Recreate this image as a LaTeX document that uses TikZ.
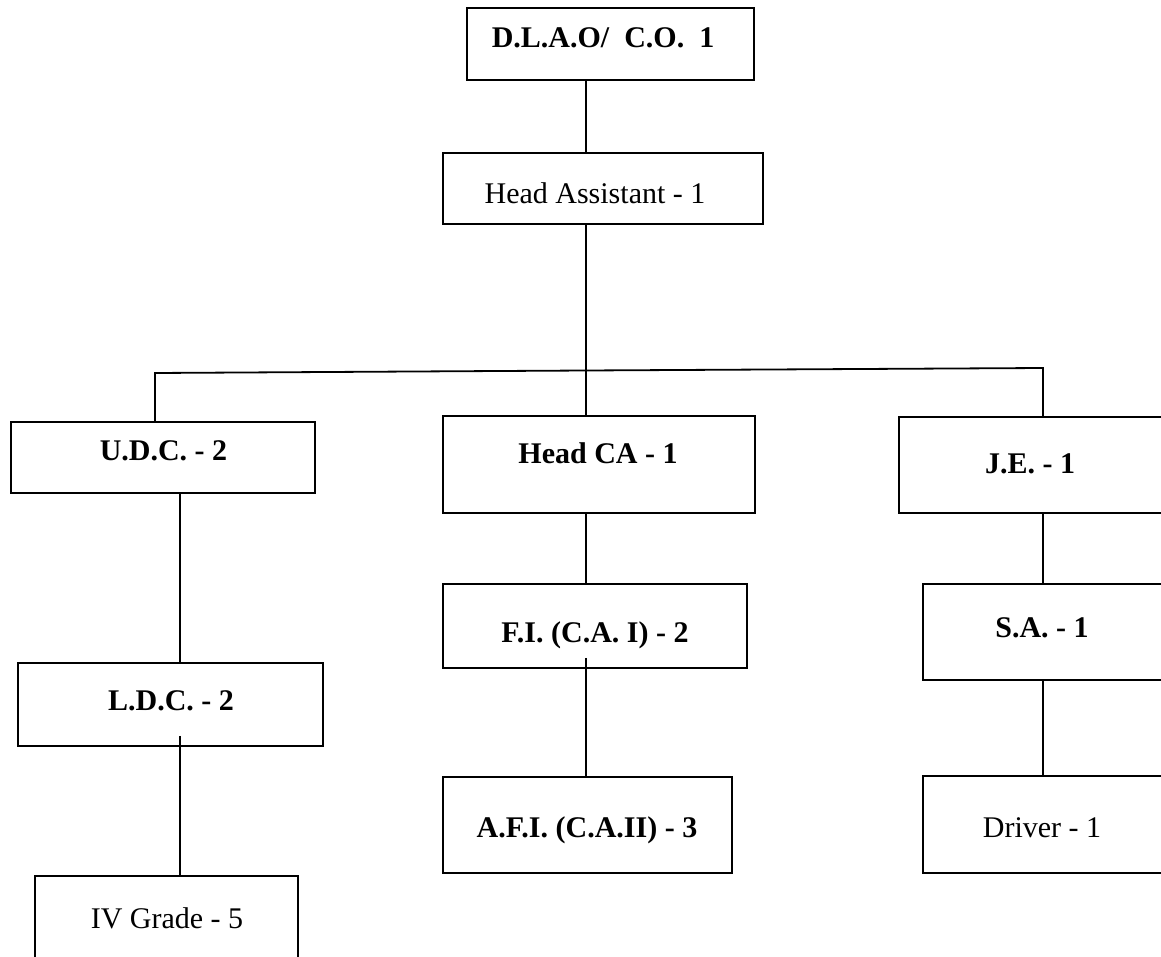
\documentclass[tikz,border=0pt]{standalone}
\usepackage{fontspec}
\setmainfont{Liberation Serif}
\begin{document}
\begin{tikzpicture}[x=1pt,y=-1pt,
  orgbox/.style={draw=black,line width=1.8pt,rectangle,inner sep=0pt},
  lbl/.style={anchor=base,inner sep=0pt,font=\fontsize{30}{36}\selectfont},
  blbl/.style={lbl,font=\fontsize{30}{36}\selectfont\bfseries},
  conn/.style={line width=1.8pt}]
\useasboundingbox (0,0) rectangle (1161,957);
\clip (0,0) rectangle (1161,957);
\fill[white] (0,0) rectangle (1161,957);
% boxes
\node[orgbox,minimum width=287pt,minimum height=72pt] (dlao) at (610.5,44) {};
\node[orgbox,minimum width=320pt,minimum height=71pt] (ha) at (603,188.5) {};
\node[orgbox,minimum width=304pt,minimum height=71pt] (udc) at (163,457.5) {};
\node[orgbox,minimum width=312pt,minimum height=97pt] (hca) at (599,464.5) {};
\node[orgbox,minimum width=291pt,minimum height=96pt] (je) at (1044.5,465) {};
\node[orgbox,minimum width=305pt,minimum height=83pt] (ldc) at (170.5,704.5) {};
\node[orgbox,minimum width=304pt,minimum height=84pt] (fi) at (595,626) {};
\node[orgbox,minimum width=267pt,minimum height=96pt] (sa) at (1056.5,632) {};
\node[orgbox,minimum width=289pt,minimum height=96pt] (afi) at (587.5,825) {};
\node[orgbox,minimum width=267pt,minimum height=97pt] (drv) at (1056.5,824.5) {};
\node[orgbox,minimum width=263pt,minimum height=110pt] (iv) at (166.5,931) {};
% texts
\node[blbl] (tdlao) at (603,48) {D.L.A.O/\ \ C.O.\ \ 1};
\node[lbl] (tha) at (595,204) {Head Assistant - 1};
\node[blbl] (tudc) at (163.5,460) {U.D.C. - 2};
\node[blbl] (thca) at (598,463) {Head CA - 1};
\node[blbl] (tje) at (1030,473) {J.E. - 1};
\node[blbl] (tfi) at (595,642) {F.I. (C.A. I) - 2};
\node[blbl] (tsa) at (1042,637) {S.A. - 1};
\node[blbl] (tldc) at (171,710) {L.D.C. - 2};
\node[blbl] (tafi) at (587,837) {A.F.I. (C.A.II) - 3};
\node[lbl] (tdrv) at (1042,837) {Driver - 1};
\node[lbl] (tiv) at (167,928) {IV Grade - 5};
% column coordinates
\coordinate (c1) at (155,0);
\coordinate (c2) at (586,0);
\coordinate (c3) at (1043,0);
\coordinate (c4) at (180,0);
\coordinate (bl) at (155,373);
\coordinate (bm) at (586,370.5);
\coordinate (br) at (1043,368);
% connectors
\draw[conn] (dlao.south -| c2) -- (ha.north -| c2);
\draw[conn] (ha.south -| c2) -- (hca.north -| c2);
\draw[conn] (udc.north -| c1) -- (bl) -- (bm) -- (br) -- (je.north -| c3);
\draw[conn] (udc.south -| c4) -- (ldc.north -| c4);
\draw[conn] ([yshift=11pt]ldc.south -| c4) -- (iv.north -| c4);
\draw[conn] (hca.south -| c2) -- (fi.north -| c2);
\draw[conn] ([yshift=11pt]fi.south -| c2) -- (afi.north -| c2);
\draw[conn] (je.south -| c3) -- (sa.north -| c3);
\draw[conn] (sa.south -| c3) -- (drv.north -| c3);
\end{tikzpicture}
\end{document}
